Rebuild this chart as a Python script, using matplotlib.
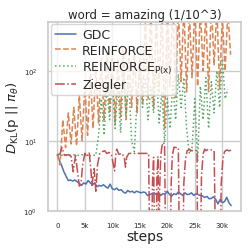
import matplotlib
matplotlib.use("Agg")
import matplotlib.pyplot as plt
import seaborn as sns

# ---------------- data ----------------
gdc_steps = list(range(0, 31601, 400))
gdc_kl = [6.3, 5.2, 4.4, 3.6, 3.1, 2.7, 2.75, 2.65, 2.75, 2.6,
          2.45, 2.3, 2.5, 2.4, 2.7, 2.5, 2.35, 2.5, 2.2, 2.3,
          2.25, 2.35, 2.2, 2.1, 2.4, 2.05, 2.0, 2.1, 1.95, 2.0,
          1.85, 1.78, 1.95, 1.85, 1.9, 1.8, 1.9, 1.85, 1.8, 1.85,
          1.82, 1.65, 1.7, 1.75, 1.8, 1.7, 1.78, 1.65, 1.75, 1.72,
          1.9, 1.7, 1.62, 1.75, 1.7, 1.85, 1.75, 1.65, 1.8, 1.7,
          1.72, 1.8, 1.65, 1.75, 1.7, 1.65, 1.62, 1.55, 1.6, 1.48,
          1.5, 1.58, 1.45, 1.25, 1.45, 1.3, 1.35, 1.55, 1.3, 1.18]

rf_steps = list(range(0, 31501, 500))
rf_kl = [6.3, 4.5, 20, 8, 25, 9, 30, 8.5, 45, 10,
         60, 12, 90, 15, 120, 18, 150, 20, 180, 25,
         160, 18, 150, 22, 200, 20, 180, 30, 200, 25,
         150, 35, 600, 40, 800, 30, 700, 50, 900, 15,
         800, 60, 1000, 40, 800, 70, 900, 50, 700, 80,
         900, 60, 800, 100, 700, 50, 900, 120, 800, 55,
         600, 100, 700, 170]

rfp_steps = list(range(0, 31001, 500))
rfp_kl = [6.3, 6.3, 6.2, 6.3, 6.3, 6.2, 6.3, 6.2, 6.2, 6.3,
          6.2, 6.2, 6.1, 6.2, 6.2, 12, 40, 12, 60, 20,
          80, 15, 60, 13, 90, 25, 70, 10, 7, 40,
          100, 30, 80, 20, 60, 25, 100, 18, 50, 9.5,
          40, 15, 70, 20, 90, 30, 80, 15, 6.5, 8,
          40, 5, 60, 20, 80, 15, 70, 25, 100, 30,
          150, 40, 55]

zg_steps = [0, 500, 850, 1300, 2000, 2500, 2900, 3300, 3700, 4000,
            4300, 4600, 5000, 5400, 5800, 6100, 6300, 6700, 7000, 7300,
            7700, 8200, 8600, 9000, 9400, 9800, 10200, 10400, 10600, 10800,
            11200, 11800, 12200, 12400, 12600, 13000, 14000, 15000, 16000, 16600,
            16800, 17100, 17300, 17500, 17700, 18000, 18100, 18300, 18500, 18600,
            18800, 19000, 19200, 19500, 19700, 20500, 20700, 20900, 21200, 21600,
            22000, 22200, 22800, 23000, 23300, 23600, 24000, 24500, 25000, 25400,
            25500, 26000, 26200, 26500, 26800, 27000, 27500, 28000, 28500, 28800,
            29600, 29800, 30100, 30400, 30800, 31200, 31600]
zg_kl = [6.3, 6.5, 8.0, 6.2, 6.3, 6.0, 3.6, 6.2, 3.5, 2.25,
         2.4, 4.5, 6.6, 6.0, 6.8, 3.9, 2.3, 4.0, 1.9, 4.5,
         6.5, 7.0, 7.2, 6.6, 6.8, 6.5, 4.5, 3.7, 6.0, 7.6,
         6.4, 6.6, 5.5, 4.2, 5.8, 6.6, 6.6, 6.6, 6.6, 6.6,
         0.2, 0.2, 2.5, 5.8, 0.2, 0.2, 3.0, 6.0, 0.2, 2.0,
         6.0, 8.1, 9.5, 9.0, 0.2, 0.2, 2.5, 6.0, 8.1, 8.0,
         8.0, 0.2, 0.2, 2.5, 5.5, 7.2, 7.5, 7.2, 7.4, 7.2,
         0.2, 0.2, 3.0, 6.5, 7.6, 7.2, 7.6, 7.4, 7.2, 0.2,
         0.2, 2.5, 5.5, 7.0, 7.4, 7.2, 7.3]

xtick_vals = [0, 5000, 10000, 15000, 20000, 25000, 30000]
xtick_labels = ["0", "5k", "10k", "15k", "20k", "25k", "30k"]

# ---------------- plot ----------------
sns.set_theme(style="whitegrid")
plt.rcParams['font.family'] = ['DejaVu Sans']
plt.rcParams['mathtext.fontset'] = 'dejavusans'

fig = plt.figure(figsize=(2.51, 2.51), dpi=100)
ax = fig.add_axes([0.1924, 0.1566, 0.768, 0.7518])

pal = sns.color_palette("deep")
ax.plot(gdc_steps, gdc_kl, color=pal[0], lw=1.1, ls='-', label="GDC")
ax.plot(rf_steps, rf_kl, color=pal[1], lw=1.1, ls='--', label="REINFORCE")
ax.plot(rfp_steps, rfp_kl, color=pal[2], lw=1.1, ls=':',
        label=r"REINFORCE$_{\mathrm{P(x)}}$")
ax.plot(zg_steps, zg_kl, color=pal[3], lw=1.1, ls='-.', label="Ziegler")

ax.set_yscale('log')
ax.set_ylim(1, 500)
ax.set_xlim(-1640, 33400)
ax.set_xticks(xtick_vals)
ax.set_xticklabels(xtick_labels)
ax.tick_params(axis='both', labelsize=5, pad=2)
ax.minorticks_off()
ax.set_yticks([1, 10, 100])

ax.set_xlabel("steps", fontsize=10, labelpad=1)
ax.set_ylabel(r"$D_{\mathrm{KL}}(\mathrm{p}\ ||\ \pi_\theta)$", fontsize=9.5, labelpad=2)
ax.set_title("word = amazing (1/10^3)", fontsize=8.5, pad=3)

ax.legend(loc='upper left', fontsize=9, borderaxespad=0.2,
          handlelength=1.7, borderpad=0.3, labelspacing=0.2, handletextpad=0.5)

fig.savefig("out.png", dpi=100)
